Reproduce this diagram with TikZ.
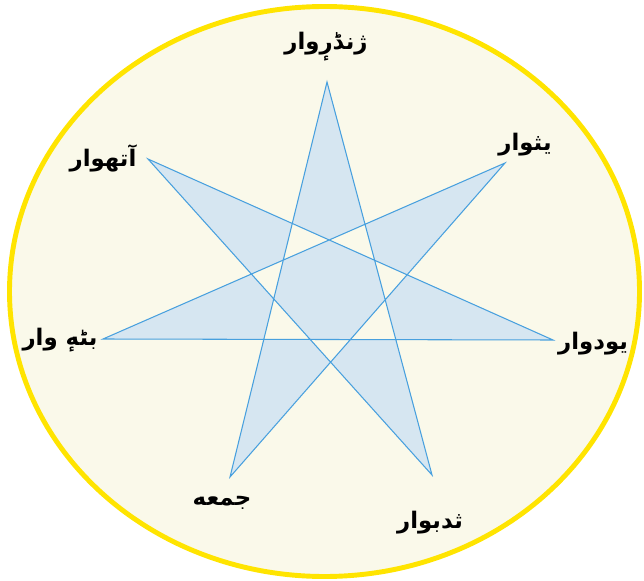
\documentclass[tikz,border=0pt]{standalone}
\usepackage{fontspec}
\usepackage{xcolor}
\usepackage{tikz}
\usetikzlibrary{positioning}
\TeXXeTstate=1
\newfontfamily\arabicfont[Script=Arabic]{DejaVu Sans}
\definecolor{dialyellow}{RGB}{255,228,0}
\definecolor{dialcream}{RGB}{250,249,234}
\definecolor{starfill}{RGB}{214,230,241}
\definecolor{starline}{RGB}{72,160,222}
\tikzset{
  dial/.style={draw=dialyellow, line width=2.8pt, fill=dialcream},
  star/.style={draw=starline, line width=0.6pt, fill=starfill, even odd rule, line join=miter},
  day/.style={font=\arabicfont\bfseries\fontsize{13}{15}\selectfont, inner sep=1pt}
}

\begin{document}
\begin{tikzpicture}[x=0.02cm, y=-0.02cm]
\useasboundingbox (0,0) rectangle (644,580);
\draw[dial] (324.5,291.5) ellipse [x radius=315, y radius=285];
% star points
\coordinate (a) at (327,82);
\coordinate (b) at (505,163);
\coordinate (c) at (553,340);
\coordinate (d) at (432,475);
\coordinate (e) at (230,477);
\coordinate (f) at (103,339);
\coordinate (g) at (148,159);
\draw[star] (a) -- (d) -- (g) -- (c) -- (f) -- (b) -- (e) -- cycle;
% day names
\node[day] (la) at (326,47) {\beginR ژنڈرٕوار\endR};
\node[day] (lb) at (525,145) {\beginR یثوار\endR};
\node[day] (lc) at (593,344) {\beginR یودوار\endR};
\node[day] (ld) at (430,523) {\beginR ثدبوار\endR};
\node[day] (le) at (222,503) {\beginR جمعه\endR};
\node[day] (lf) at (60,340) {\beginR بٹهٕ وار\endR};
\node[day] (lg) at (103,158) {\beginR آتھوار\endR};
\end{tikzpicture}
\end{document}
